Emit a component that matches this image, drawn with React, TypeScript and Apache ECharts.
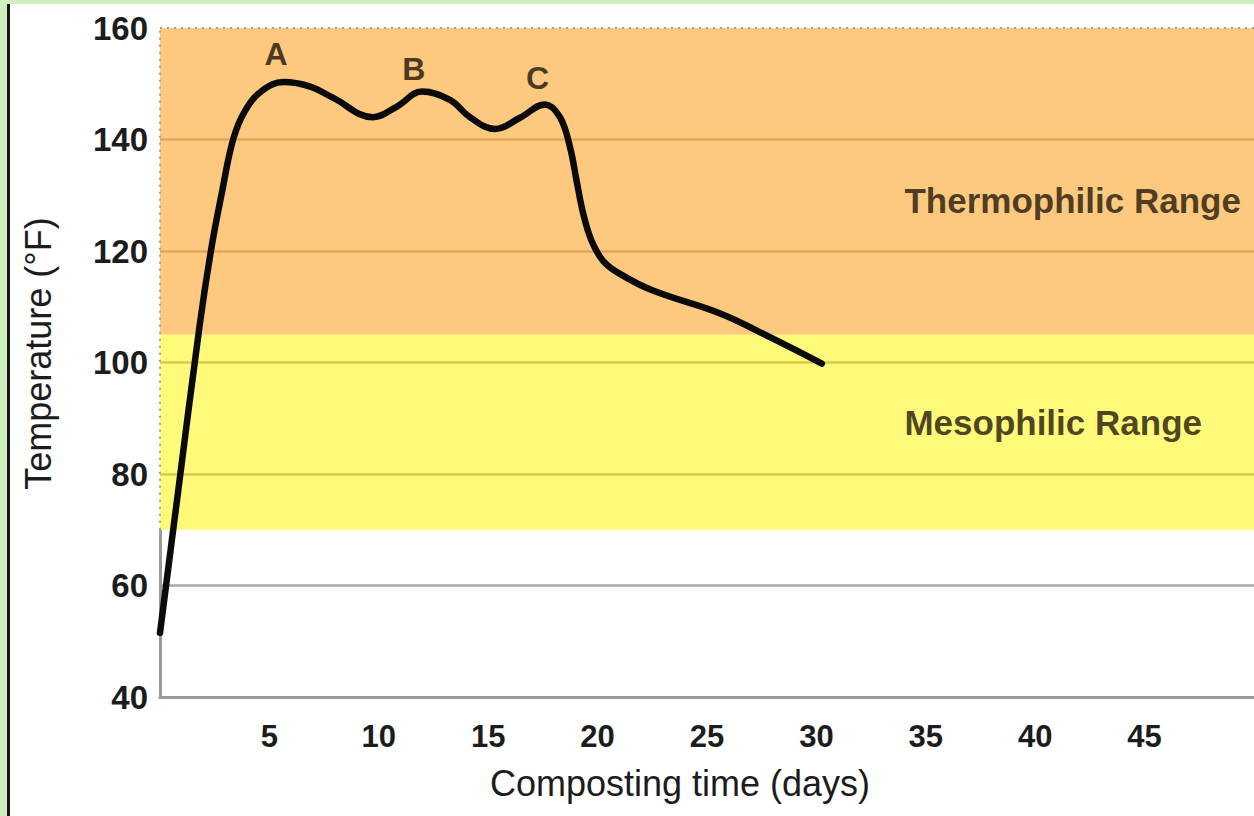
import React, { useEffect, useRef } from "react";
import * as echarts from "echarts";

// ---- data ----
const curveDays = [0, 0.8, 1.8, 2.33, 2.82, 3.35, 3.88, 4.65, 5.65, 6.86, 7.9, 9.73, 10.83, 11.97, 13.25, 14.17, 15.31, 16.45, 17.6, 18.28, 18.74, 19.04, 19.35, 19.73, 20.26, 21.02, 22.53, 25.6, 27.9, 30.25];
const curveTemps = [51.5, 76, 106.3, 120.1, 130.3, 140.1, 145.1, 148.7, 150.3, 149.5, 147.5, 144, 145.9, 148.6, 147.1, 144, 141.9, 143.9, 146.3, 144, 138.6, 132.6, 126.6, 121.8, 118.2, 115.9, 112.9, 108.8, 104.5, 99.8];

const bandNames = ["Thermophilic Range", "Mesophilic Range"];
const bandLow = [105, 70];
const bandHigh = [160, 105];
const bandLabelDay = 34;
const bandLabelTemps = [129, 89.2];

const peakNames = ["A", "B", "C"];
const peakDays = [5.3, 11.6, 17.25];
const peakTemps = [155.4, 152.6, 151];

const xMin = 0;
const xMax = 50;
const xStep = 5;
const yMin = 40;
const yMax = 160;
const yStep = 20;

const xTitle = "Composting time (days)";
const yTitle = "Temperature (°F)";

// ---- styles ----
const FONT = "'Liberation Sans', Arial, Helvetica, sans-serif";
const bandColors = ["#FCC97E", "#FFFA7A"];
const bandLineColors = ["#E0A65C", "#D6CE48"];
const plainLineColor = "#A9A9A9";
const textColor = "#1c1c1c";

function gridColorFor(v: number): string {
  for (let i = 0; i < bandNames.length; i++) {
    if (v > bandLow[i] && v < bandHigh[i]) return bandLineColors[i];
  }
  return plainLineColor;
}

export default function App() {
  const ref = useRef<HTMLDivElement>(null);

  useEffect(() => {
    if (!ref.current) return;
    const chart = echarts.init(ref.current, undefined, { renderer: "svg" });

    const gridLines: any[] = [];
    for (let v = yMin + yStep; v < yMax; v += yStep) {
      gridLines.push([
        { coord: [xMin, v], lineStyle: { color: gridColorFor(v), width: 2.5, type: "solid" } },
        { coord: [xMax, v] },
      ]);
    }
    const frameLines: any[] = [
      [
        { coord: [xMin, yMin], lineStyle: { color: "#9a9a9a", width: 3, type: "solid" } },
        { coord: [xMin, bandLow[1]] },
      ],
      [
        { coord: [xMin, bandLow[1]], lineStyle: { color: "#a0a0a0", width: 2, type: [2, 5] } },
        { coord: [xMin, yMax] },
      ],
      [
        { coord: [xMin, yMax], lineStyle: { color: "#a0a0a0", width: 2, type: [2, 5] } },
        { coord: [xMax, yMax] },
      ],
    ];

    const curveData = curveDays.map((d, i) => [d, curveTemps[i]]);

    chart.setOption({
      animation: false,
      backgroundColor: "#ffffff",
      textStyle: { fontFamily: FONT },
      graphic: [
        { type: "rect", left: 0, top: 0, shape: { width: 1254, height: 4 }, style: { fill: "#CFEFBC" }, z: 100 },
        { type: "rect", left: 0, top: 0, shape: { width: 7, height: 816 }, style: { fill: "#CFEFBC" }, z: 100 },
        { type: "rect", left: 7, top: 4, shape: { width: 3, height: 812 }, style: { fill: "#141414" }, z: 100 },
      ],
      grid: { left: 160, right: 0, top: 28, bottom: 119, containLabel: false },
      xAxis: {
        type: "value",
        min: xMin,
        max: xMax,
        interval: xStep,
        name: xTitle,
        nameLocation: "middle",
        nameGap: 68,
        nameTextStyle: {
          fontFamily: FONT,
          fontSize: 36,
          color: textColor,
          padding: [0, 54, 0, 0],
        },
        axisLine: { show: true, onZero: false, lineStyle: { color: "#9a9a9a", width: 3 } },
        axisTick: { show: false },
        splitLine: { show: false },
        axisLabel: {
          showMinLabel: false,
          showMaxLabel: false,
          margin: 24,
          fontFamily: FONT,
          fontSize: 31,
          fontWeight: "bold",
          color: textColor,
        },
      },
      yAxis: {
        type: "value",
        min: yMin,
        max: yMax,
        interval: yStep,
        name: yTitle,
        nameLocation: "middle",
        nameRotate: 90,
        nameGap: 104,
        nameTextStyle: {
          fontFamily: FONT,
          fontSize: 36,
          color: textColor,
          padding: [0, 0, 0, 18],
        },
        axisLine: { show: false },
        axisTick: { show: false },
        splitLine: { show: false },
        axisLabel: {
          margin: 12,
          fontFamily: FONT,
          fontSize: 33,
          fontWeight: "bold",
          color: textColor,
        },
      },
      series: [
        {
          type: "line",
          z: 10,
          data: curveData,
          smooth: 0.4,
          symbol: "none",
          lineStyle: { color: "#0a0a0a", width: 6.5, cap: "round", join: "round" },
          markArea: {
            silent: true,
            data: bandNames.map((n, i) => [
              { yAxis: bandLow[i], xAxis: xMin, itemStyle: { color: bandColors[i], opacity: 1 } },
              { yAxis: bandHigh[i], xAxis: xMax },
            ]),
            label: { show: false },
          },
          markLine: {
            silent: true,
            symbol: ["none", "none"],
            label: { show: false },
            data: [...gridLines, ...frameLines],
          },
        },
        {
          type: "scatter",
          z: 11,
          symbolSize: 1,
          itemStyle: { color: "rgba(0,0,0,0)" },
          data: peakNames.map((n, i) => ({ name: n, value: [peakDays[i], peakTemps[i]] })),
          label: {
            show: true,
            position: "inside",
            formatter: "{b}",
            fontFamily: FONT,
            fontSize: 32,
            fontWeight: "bold",
            color: "#1a1208",
          },
        },
        {
          type: "scatter",
          z: 11,
          symbolSize: 1,
          itemStyle: { color: "rgba(0,0,0,0)" },
          data: bandNames.map((n, i) => ({ name: n, value: [bandLabelDay, bandLabelTemps[i]] })),
          label: {
            show: true,
            position: "right",
            distance: 0,
            formatter: "{b}",
            fontFamily: FONT,
            fontSize: 35,
            fontWeight: "bold",
            color: "#20160a",
          },
        },
      ],
    });

    return () => {
      chart.dispose();
    };
  }, []);

  return (
    <div
      ref={ref}
      style={{ position: "fixed", left: 0, top: 0, width: 1254, height: 816, background: "#fff" }}
    />
  );
}
